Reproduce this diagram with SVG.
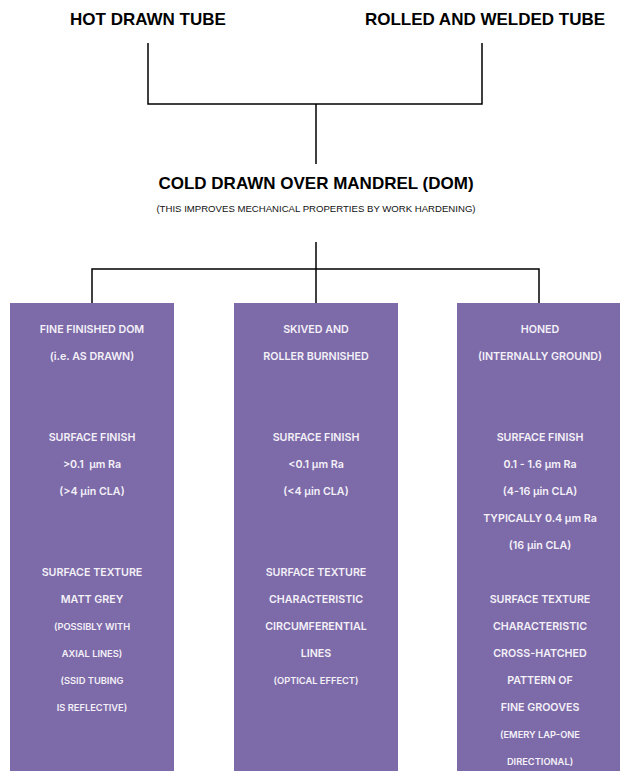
<svg xmlns="http://www.w3.org/2000/svg" width="620" height="776" viewBox="0 0 620 776">
<style>
.hd{font-family:"Liberation Sans",Arial,sans-serif;font-weight:bold;font-size:17px;fill:#000;text-anchor:middle}
.sub{font-family:"Liberation Sans",Arial,sans-serif;font-size:9.6px;fill:#111;text-anchor:middle}
.box{fill:#7d6aa8}
.t{font-family:Inter,"Noto Sans",sans-serif;font-weight:600;font-size:10.7px;fill:#f4f1f8;text-anchor:middle}
.s{font-size:9.3px}
.ln{fill:none;stroke:#000;stroke-width:1.5}
</style>
<rect width="620" height="776" fill="#fff"/>
<g id="connectors">
<path class="ln" d="M148,43 V104 H482 V43"/>
<path class="ln" d="M316,104 V164"/>
<path class="ln" d="M316,242 V303"/>
<path class="ln" d="M92,303 V269 H539 V303"/>
</g>
<g id="hot-drawn"><text class="hd" x="148" y="25">HOT DRAWN TUBE</text></g>
<g id="rolled-welded"><text class="hd" x="485" y="25">ROLLED AND WELDED TUBE</text></g>
<g id="dom">
<text class="hd" x="316" y="189">COLD DRAWN OVER MANDREL (DOM)</text>
<text class="sub" x="316" y="212">(THIS IMPROVES MECHANICAL PROPERTIES BY WORK HARDENING)</text>
</g>
<g id="fine-finished">
<rect class="box" x="10" y="303" width="164" height="468"/>
<text class="t" x="92" y="333">FINE FINISHED DOM</text>
<text class="t" x="92" y="360">(i.e. AS DRAWN)</text>
<text class="t" x="92" y="441">SURFACE FINISH</text>
<text class="t" x="92" y="468" xml:space="preserve">&gt;0.1  µm Ra</text>
<text class="t" x="92" y="495">(&gt;4 µin CLA)</text>
<text class="t" x="92" y="576">SURFACE TEXTURE</text>
<text class="t" x="92" y="603">MATT GREY</text>
<text class="t s" x="92" y="630">(POSSIBLY WITH</text>
<text class="t s" x="92" y="657">AXIAL LINES)</text>
<text class="t s" x="92" y="684">(SSID TUBING</text>
<text class="t s" x="92" y="711">IS REFLECTIVE)</text>
</g>
<g id="skived">
<rect class="box" x="234" y="303" width="164" height="468"/>
<text class="t" x="316" y="333">SKIVED AND</text>
<text class="t" x="316" y="360">ROLLER BURNISHED</text>
<text class="t" x="316" y="441">SURFACE FINISH</text>
<text class="t" x="316" y="468">&lt;0.1 µm Ra</text>
<text class="t" x="316" y="495">(&lt;4 µin CLA)</text>
<text class="t" x="316" y="576">SURFACE TEXTURE</text>
<text class="t" x="316" y="603">CHARACTERISTIC</text>
<text class="t" x="316" y="630">CIRCUMFERENTIAL</text>
<text class="t" x="316" y="657">LINES</text>
<text class="t s" x="316" y="684">(OPTICAL EFFECT)</text>
</g>
<g id="honed">
<rect class="box" x="457" y="303" width="164" height="468"/>
<text class="t" x="540" y="333">HONED</text>
<text class="t" x="540" y="360">(INTERNALLY GROUND)</text>
<text class="t" x="540" y="441">SURFACE FINISH</text>
<text class="t" x="540" y="468">0.1 - 1.6 µm Ra</text>
<text class="t" x="540" y="495">(4-16 µin CLA)</text>
<text class="t" x="540" y="522">TYPICALLY 0.4 µm Ra</text>
<text class="t" x="540" y="549">(16 µin CLA)</text>
<text class="t" x="540" y="603">SURFACE TEXTURE</text>
<text class="t" x="540" y="630">CHARACTERISTIC</text>
<text class="t" x="540" y="657">CROSS-HATCHED</text>
<text class="t" x="540" y="684">PATTERN OF</text>
<text class="t" x="540" y="711">FINE GROOVES</text>
<text class="t s" x="540" y="738">(EMERY LAP-ONE</text>
<text class="t s" x="540" y="765">DIRECTIONAL)</text>
</g>
</svg>
